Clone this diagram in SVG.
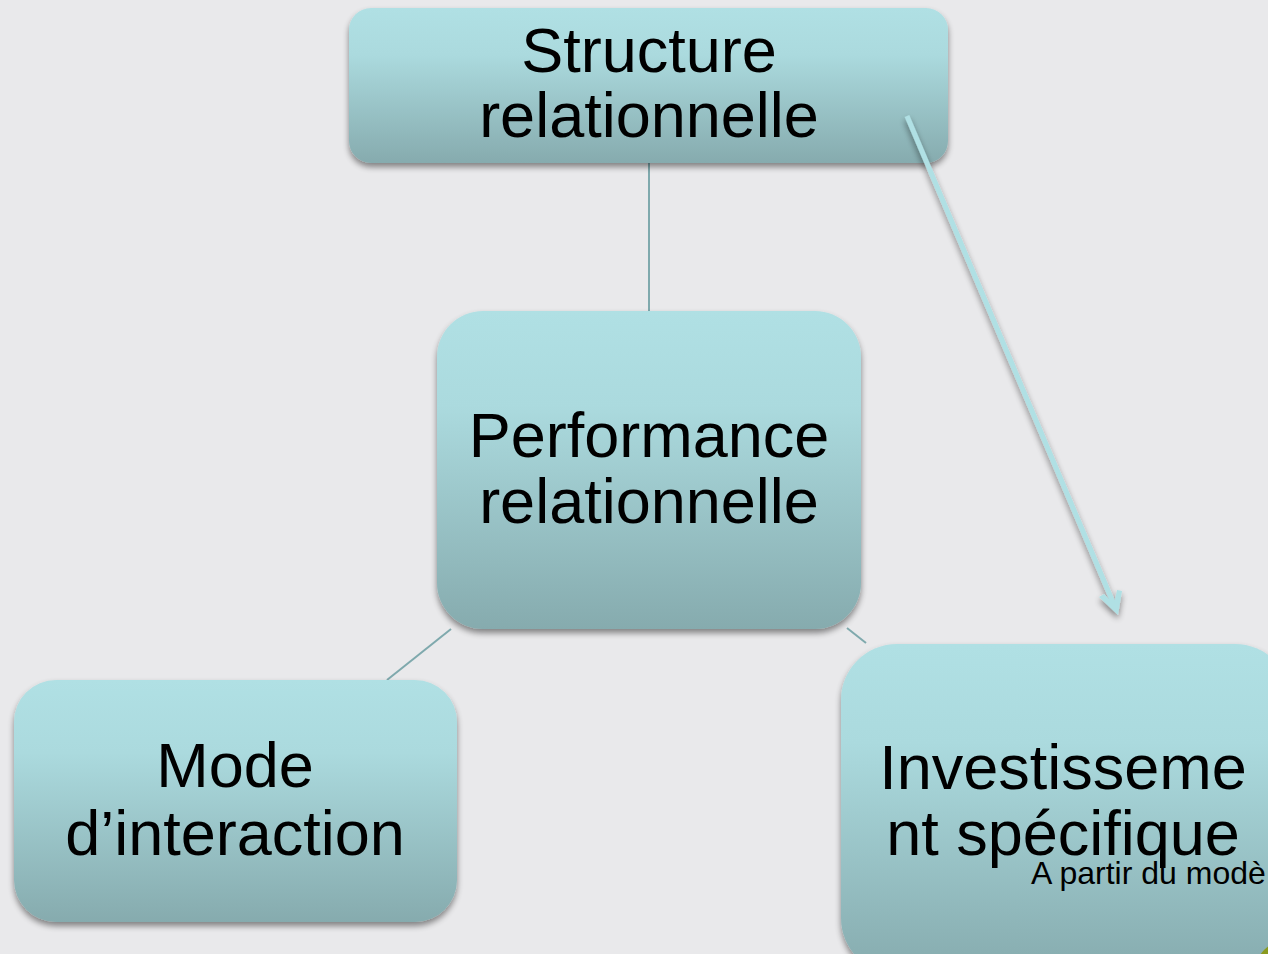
<svg xmlns="http://www.w3.org/2000/svg" width="1268" height="954" viewBox="0 0 1268 954">
  <defs>
    <linearGradient id="boxFill" x1="0" y1="0" x2="0" y2="1">
      <stop offset="0" stop-color="#b0e0e4"/>
      <stop offset="0.3" stop-color="#abdade"/>
      <stop offset="1" stop-color="#86abae"/>
    </linearGradient>
    <filter id="shadow" x="-10%" y="-10%" width="120%" height="125%">
      <feGaussianBlur in="SourceAlpha" stdDeviation="3"/>
      <feOffset dx="0" dy="4" result="b"/>
      <feComponentTransfer><feFuncA type="linear" slope="0.45"/></feComponentTransfer>
      <feMerge><feMergeNode/><feMergeNode in="SourceGraphic"/></feMerge>
    </filter>
  </defs>
  <style>
    .box { fill: url(#boxFill); filter: url(#shadow); }
    .label { font-family: "Liberation Sans", Arial, sans-serif; font-size: 63px; fill: #000; text-anchor: middle; }
    .note { font-family: "Liberation Sans", Arial, sans-serif; font-size: 32px; fill: #000; }
    .link { stroke: #7fa9ad; stroke-width: 2; fill: none; }
    .arrow { stroke: #b0e0e4; stroke-width: 5; fill: none; }
  </style>

  <rect width="1268" height="954" fill="#e9e9eb"/>

  <!-- tree connectors -->
  <g id="connectors">
    <line class="link" x1="649" y1="163" x2="649" y2="311"/>
    <line class="link" x1="451" y1="629" x2="387" y2="680"/>
    <line class="link" x1="847" y1="628" x2="866" y2="643"/>
  </g>

  <g id="node-structure">
    <rect class="box" x="349" y="8" width="599" height="155" rx="22"/>
    <text class="label" x="649" y="72">Structure</text>
    <text class="label" x="649" y="137">relationnelle</text>
  </g>

  <g id="node-performance">
    <rect class="box" x="437" y="311" width="424" height="318" rx="46"/>
    <text class="label" x="649" y="457">Performance</text>
    <text class="label" x="649" y="523">relationnelle</text>
  </g>

  <g id="node-mode">
    <rect class="box" x="14" y="680" width="443" height="242" rx="42"/>
    <text class="label" x="235" y="787">Mode</text>
    <text class="label" x="235" y="855">d’interaction</text>
  </g>

  <g id="node-investissement">
    <rect class="box" x="841" y="644" width="450" height="330" rx="56"/>
    <text class="label" x="1063" y="789">Investisseme</text>
    <text class="label" x="1063" y="855">nt spécifique</text>
    <text class="note" x="1031" y="884">A partir du modè</text>
  </g>

  <!-- highlighted arrow drawn over the chart -->
  <g id="arrow" filter="url(#shadow)">
    <line class="arrow" x1="907" y1="116" x2="1115" y2="607"/>
    <polygon points="1099,597 1104,594 1114,604 1117,590 1122,591 1118,615" fill="#b0e0e4"/>
  </g>

  <!-- corner ornament -->
  <circle cx="1290" cy="975" r="36" fill="#8a9a1f"/>
</svg>
